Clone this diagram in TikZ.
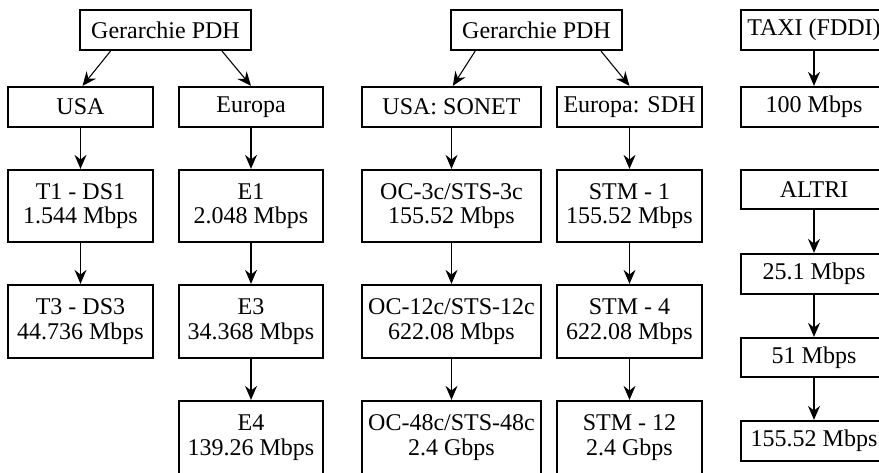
\documentclass[tikz,border=0pt]{standalone}
\usepackage{fontspec}
\setmainfont{Liberation Serif}
\usetikzlibrary{arrows.meta}
\begin{document}
\begin{tikzpicture}[x=0.75pt,y=-0.75pt,
  bx/.style 2 args={draw=black,line width=1.7pt,fill=white,inner sep=0pt,align=center,
    font=\fontsize{18pt}{18.5pt}\selectfont,
    minimum width={#1*0.75pt},minimum height={#2*0.75pt}},
  arr/.style={draw=black,line width=0.8pt,-{Stealth[length=10.5pt,width=9pt,inset=3.5pt]}}]
\useasboundingbox (0,0) rectangle (879,472);
\clip (0,0) rectangle (879,472);
% left tree
\node[bx={171}{40}] (g1) at (165.5,30) {Gerarchie PDH};
\node[bx={145}{40}] (usa) at (80.5,107) {USA};
\node[bx={144}{40}] (eur) at (251,107) {Europa};
\node[bx={145}{72}] (t1) at (80.5,206) {T1 - DS1\\1.544 Mbps};
\node[bx={145}{73}] (t3) at (80.5,321.5) {T3 - DS3\\44.736 Mbps};
\node[bx={144}{72}] (e1) at (251,206) {E1\\2.048 Mbps};
\node[bx={144}{73}] (e3) at (251,321.5) {E3\\34.368 Mbps};
\node[bx={144}{73}] (e4) at (251,437.5) {E4\\139.26 Mbps};
% middle tree
\node[bx={171}{40}] (g2) at (536.5,30) {Gerarchie PDH};
\node[bx={179}{40}] (sonet) at (451.5,107) {USA: SONET};
\node[bx={145}{40}] (sdh) at (629.5,107) {Europa: SDH};
\node[bx={179}{72}] (oc3) at (451.5,206) {OC-3c/STS-3c\\155.52 Mbps};
\node[bx={179}{73}] (oc12) at (451.5,321.5) {OC-12c/STS-12c\\622.08 Mbps};
\node[bx={179}{73}] (oc48) at (451.5,437.5) {OC-48c/STS-48c\\2.4 Gbps};
\node[bx={145}{72}] (stm1) at (629.5,206) {STM - 1\\155.52 Mbps};
\node[bx={145}{73}] (stm4) at (629.5,321.5) {STM - 4\\622.08 Mbps};
\node[bx={145}{73}] (stm12) at (629.5,437.5) {STM - 12\\2.4 Gbps};
% right column
\node[bx={146}{40}] (taxi) at (814,30) {TAXI (FDDI)};
\node[bx={146}{40}] (m100) at (814,107) {100 Mbps};
\node[bx={146}{39}] (altri) at (814,189.5) {ALTRI};
\node[bx={146}{40}] (m25) at (814,274) {25.1 Mbps};
\node[bx={146}{39}] (m51) at (814,357.5) {51 Mbps};
\node[bx={146}{40}] (m155) at (814,441) {155.52 Mbps};
% connectors
\draw[arr] ([xshift=-41.25pt]g1.south) -- ([xshift=1.5pt]usa.north);
\draw[arr] ([xshift=42.4pt]g1.south) -- (eur.north);
\draw[arr] (usa) -- (t1);
\draw[arr] (t1) -- (t3);
\draw[arr] (eur) -- (e1);
\draw[arr] (e1) -- (e3);
\draw[arr] (e3) -- (e4);
\draw[arr] ([xshift=-46pt]g2.south) -- ([xshift=1pt]sonet.north);
\draw[arr] ([xshift=48.4pt]g2.south) -- (sdh.north);
\draw[arr] (sonet) -- (oc3);
\draw[arr] (oc3) -- (oc12);
\draw[arr] (oc12) -- (oc48);
\draw[arr] (sdh) -- (stm1);
\draw[arr] (stm1) -- (stm4);
\draw[arr] (stm4) -- (stm12);
\draw[arr] (taxi) -- (m100);
\draw[arr] (altri) -- (m25);
\draw[arr] (m25) -- (m51);
\draw[arr] (m51) -- (m155);
\end{tikzpicture}
\end{document}
